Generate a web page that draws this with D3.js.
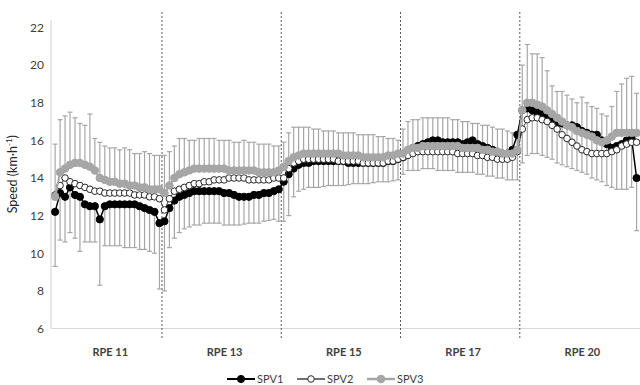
<!DOCTYPE html>
<html>
<head>
<meta charset="utf-8">
<script src="https://cdn.jsdelivr.net/npm/d3@7"></script>
<style>
  body { margin: 0; background: #fff; }
  svg { font-family: Lato, "Open Sans", sans-serif; }
</style>
</head>
<body>
<div id="chart"></div>
<script>
// segments (RPE stages) and how many samples each holds
const stages = ["RPE 11", "RPE 13", "RPE 15", "RPE 17", "RPE 20"];
const stageCounts = [22, 24, 24, 24, 24];
const yTicks = [6, 8, 10, 12, 14, 16, 18, 20, 22];

const spv1 = [
  12.2, 13.2, 13.0, 13.5, 13.1, 13.0, 12.6, 12.5, 12.5, 11.8, 12.5, 12.6, 12.6, 12.6, 12.6, 12.6, 12.6, 12.5, 12.4, 12.3, 12.2, 11.6,
  11.7, 12.4, 12.8, 13.0, 13.1, 13.2, 13.3, 13.3, 13.3, 13.3, 13.3, 13.3, 13.2, 13.2, 13.1, 13.0, 13.0, 13.0, 13.1, 13.1, 13.2, 13.2, 13.3, 13.4,
  13.8, 14.2, 14.5, 14.7, 14.8, 14.8, 14.9, 14.9, 14.9, 14.9, 14.9, 14.9, 14.9, 14.8, 14.8, 14.8, 14.8, 14.8, 14.8, 14.8, 14.8, 14.9, 14.9, 15.0,
  15.1, 15.4, 15.6, 15.7, 15.8, 15.9, 16.0, 16.0, 15.9, 15.9, 15.9, 15.9, 15.8, 15.9, 16.0, 15.8, 15.7, 15.6, 15.5, 15.4, 15.3, 15.3, 15.5, 16.3,
  17.6, 17.7, 17.6, 17.5, 17.4, 17.2, 17.1, 16.9, 16.9, 16.8, 16.8, 16.7, 16.5, 16.4, 16.3, 16.3, 16.0, 15.8, 15.6, 15.7, 15.8, 16.0, 16.1, 14.0
];
const spv2 = [
  13.1, 13.6, 14.0, 13.8, 13.7, 13.6, 13.5, 13.4, 13.3, 13.3, 13.2, 13.2, 13.2, 13.2, 13.2, 13.2, 13.1, 13.1, 13.1, 13.0, 13.0, 12.9,
  12.3, 12.9, 13.3, 13.4, 13.5, 13.6, 13.7, 13.7, 13.8, 13.8, 13.9, 13.9, 13.9, 14.0, 14.0, 14.0, 14.0, 13.9, 13.9, 13.9, 13.9, 13.9, 14.0, 14.0,
  14.0, 14.5, 14.8, 14.9, 15.0, 15.0, 15.0, 15.0, 15.0, 15.0, 15.0, 14.9, 14.9, 14.9, 14.9, 14.9, 14.8, 14.8, 14.8, 14.8, 14.8, 14.9, 14.9, 15.0,
  15.1, 15.2, 15.3, 15.4, 15.4, 15.4, 15.4, 15.4, 15.4, 15.4, 15.4, 15.3, 15.3, 15.3, 15.3, 15.2, 15.2, 15.1, 15.1, 15.0, 15.0, 15.0, 15.1, 15.4,
  16.6, 17.1, 17.2, 17.2, 17.1, 17.0, 16.8, 16.6, 16.3, 16.1, 15.9, 15.7, 15.5, 15.4, 15.3, 15.3, 15.3, 15.3, 15.4, 15.5, 15.7, 15.8, 15.9, 15.9
];
const spv3 = [
  13.0, 14.3, 14.5, 14.7, 14.8, 14.8, 14.7, 14.6, 14.4, 14.0, 13.9, 13.8, 13.8, 13.7, 13.7, 13.6, 13.6, 13.5, 13.5, 13.4, 13.4, 13.4,
  13.2, 13.6, 14.0, 14.2, 14.3, 14.4, 14.5, 14.5, 14.5, 14.5, 14.5, 14.5, 14.5, 14.4, 14.4, 14.4, 14.4, 14.4, 14.4, 14.3, 14.3, 14.3, 14.3, 14.4,
  14.6, 14.9, 15.1, 15.2, 15.3, 15.3, 15.3, 15.3, 15.3, 15.3, 15.3, 15.3, 15.2, 15.2, 15.2, 15.2, 15.1, 15.1, 15.1, 15.1, 15.1, 15.2, 15.2, 15.3,
  15.3, 15.5, 15.6, 15.6, 15.7, 15.7, 15.7, 15.7, 15.7, 15.7, 15.7, 15.7, 15.6, 15.6, 15.6, 15.6, 15.5, 15.5, 15.4, 15.4, 15.3, 15.3, 15.3, 15.5,
  17.6, 18.0, 18.0, 17.9, 17.8, 17.6, 17.4, 17.2, 17.0, 16.8, 16.7, 16.5, 16.4, 16.3, 16.2, 16.0, 15.9, 16.0, 16.2, 16.4, 16.4, 16.4, 16.4, 16.4
];
// error bar ends: SPV3 + SD (upper), SPV1 - SD (lower)
const spv3Upper = [
  15.8, 17.1, 17.3, 17.5, 17.2, 16.9, 16.8, 17.4, 16.1, 15.9, 15.7, 15.6, 15.6, 15.5, 15.6, 15.5, 15.3, 15.3, 15.4, 15.3, 15.2, 15.2,
  15.2, 15.4, 15.7, 16.1, 16.1, 16.0, 16.0, 16.1, 16.1, 16.1, 16.1, 16.0, 16.0, 16.0, 15.9, 15.9, 16.0, 15.9, 15.9, 15.8, 15.8, 15.8, 15.7, 15.7,
  15.9, 16.4, 16.7, 16.7, 16.7, 16.7, 16.6, 16.6, 16.5, 16.5, 16.5, 16.4, 16.4, 16.4, 16.4, 16.3, 16.3, 16.3, 16.3, 16.2, 16.2, 16.1, 16.1, 16.0,
  16.6, 17.0, 17.1, 17.1, 17.2, 17.2, 17.2, 17.2, 17.2, 17.2, 17.1, 17.1, 17.0, 17.0, 16.9, 16.9, 16.8, 16.8, 16.7, 16.6, 16.6, 16.5, 16.4, 16.4,
  20.0, 21.1, 20.6, 20.6, 20.4, 19.7, 18.9, 18.6, 18.6, 18.4, 18.2, 18.0, 18.3, 18.0, 17.8, 17.7, 17.4, 17.3, 17.8, 18.6, 19.0, 19.3, 19.4, 18.5
];
const spv1Lower = [
  9.3, 10.7, 10.6, 11.1, 10.8, 10.1, 10.6, 10.6, 10.6, 8.3, 10.4, 10.4, 10.4, 10.4, 10.3, 10.3, 10.3, 10.2, 10.2, 10.1, 10.0, 8.1,
  8.0, 10.3, 10.8, 11.1, 11.3, 11.4, 11.5, 11.5, 11.6, 11.6, 11.6, 11.6, 11.5, 11.5, 11.5, 11.5, 11.55, 11.6, 11.6, 11.6, 11.7, 11.75, 11.8, 11.7,
  11.7, 12.0, 13.0, 13.3, 13.4, 13.5, 13.5, 13.5, 13.55, 13.6, 13.6, 13.6, 13.6, 13.65, 13.7, 13.7, 13.7, 13.7, 13.75, 13.8, 13.8, 13.8, 13.85, 13.9,
  14.2, 14.4, 14.4, 14.4, 14.5, 14.5, 14.5, 14.4, 14.4, 14.4, 14.4, 14.3, 14.3, 14.3, 14.3, 14.2, 14.2, 14.1, 14.1, 14.0, 14.0, 13.9, 13.9, 13.9,
  14.8, 15.2, 15.3, 15.3, 15.2, 15.1, 15.0, 14.8, 14.7, 14.6, 14.5, 14.4, 14.3, 14.2, 14.0, 13.9, 13.8, 13.6, 13.5, 13.4, 13.4, 13.4, 13.5, 11.2
];

const W = 640, H = 385;
const n = spv1.length;
const axisLeft = 51, axisBottom = 328.5;

const svg = d3.select("#chart").append("svg")
    .attr("width", W)
    .attr("height", H);

const x = d3.scaleLinear().domain([0, n - 1]).range([55.1, 636.6]);
const y = d3.scaleLinear().domain([6, 22]).range([axisBottom, 27.5]);

// axis lines
svg.append("line")
    .attr("x1", axisLeft).attr("x2", axisLeft)
    .attr("y1", 20).attr("y2", axisBottom)
    .attr("stroke", "#d9d9d9").attr("stroke-width", 1.2);
svg.append("line")
    .attr("x1", axisLeft).attr("x2", W)
    .attr("y1", axisBottom).attr("y2", axisBottom)
    .attr("stroke", "#d9d9d9").attr("stroke-width", 1.2);

const yAxis = svg.append("g")
    .attr("transform", "translate(" + axisLeft + ",0)")
    .call(d3.axisLeft(y).tickValues(yTicks).tickSize(0).tickPadding(7));
yAxis.select(".domain").remove();
yAxis.selectAll("text")
    .attr("font-size", 12)
    .attr("font-family", "Lato, sans-serif")
    .attr("fill", "#404040");

svg.append("text")
    .attr("transform", "translate(17," + y(14.2) + ") rotate(-90)")
    .attr("text-anchor", "middle")
    .attr("font-size", 12.5)
    .attr("fill", "#262626")
    .html("Speed (km·h<tspan dy='-5' font-size='8'>-1</tspan><tspan dy='5'>)</tspan>");

// stage boundaries and labels
let starts = [], acc = 0;
stageCounts.forEach(function(c) { starts.push(acc); acc += c; });

svg.selectAll(".divider")
    .data(starts.slice(1))
  .enter().append("line")
    .attr("class", "divider")
    .attr("x1", function(s) { return x(s - 0.5); })
    .attr("x2", function(s) { return x(s - 0.5); })
    .attr("y1", 12).attr("y2", 338)
    .attr("stroke", "#595959")
    .attr("stroke-width", 1)
    .attr("stroke-dasharray", "2,2");

svg.selectAll(".stage")
    .data(stages)
  .enter().append("text")
    .attr("class", "stage")
    .attr("x", function(d, i) { return x(starts[i] + (stageCounts[i] - 1) / 2) + 3; })
    .attr("y", 356)
    .attr("text-anchor", "middle")
    .attr("font-size", 11)
    .attr("font-weight", "bold")
    .attr("fill", "#404040")
    .text(function(d) { return d; });

// error bars
const errColor = "#a6a6a6", cap = 2.5;
function errorBars(ends, base) {
  const g = svg.append("g").attr("stroke", errColor).attr("stroke-width", 1.2);
  ends.forEach(function(v, i) {
    g.append("line")
        .attr("x1", x(i)).attr("x2", x(i))
        .attr("y1", y(base[i])).attr("y2", y(v));
    g.append("line")
        .attr("x1", x(i) - cap).attr("x2", x(i) + cap)
        .attr("y1", y(v)).attr("y2", y(v));
  });
}
errorBars(spv3Upper, spv3);
errorBars(spv1Lower, spv1);

const line = d3.line()
    .x(function(d, i) { return x(i); })
    .y(function(d) { return y(d); });

const series = [
  { name: "SPV1", values: spv1, stroke: "#000", width: 1.5, fill: "#000", mstroke: "#000", r: 3.6 },
  { name: "SPV2", values: spv2, stroke: "#404040", width: 1, fill: "#fff", mstroke: "#262626", r: 3.3 },
  { name: "SPV3", values: spv3, stroke: "#a6a6a6", width: 2, fill: "#a6a6a6", mstroke: "#a6a6a6", r: 3.8 }
];

series.forEach(function(s) {
  svg.append("path")
      .datum(s.values)
      .attr("fill", "none")
      .attr("stroke", s.stroke)
      .attr("stroke-width", s.width)
      .attr("d", line);
  svg.append("g").selectAll("circle")
      .data(s.values)
    .enter().append("circle")
      .attr("cx", function(d, i) { return x(i); })
      .attr("cy", function(d) { return y(d); })
      .attr("r", s.r)
      .attr("fill", s.fill)
      .attr("stroke", s.mstroke)
      .attr("stroke-width", 1);
});

// legend
const legend = svg.append("g").attr("transform", "translate(227,379)");
series.forEach(function(s, i) {
  const g = legend.append("g").attr("transform", "translate(" + (i * 70) + ",0)");
  g.append("line")
      .attr("x1", 0).attr("x2", 28)
      .attr("stroke", s.stroke).attr("stroke-width", s.width + 0.5);
  g.append("circle")
      .attr("cx", 14).attr("r", s.r)
      .attr("fill", s.fill).attr("stroke", s.mstroke).attr("stroke-width", 1);
  g.append("text")
      .attr("x", 30).attr("y", 4)
      .attr("font-size", 11)
      .attr("fill", "#404040")
      .text(s.name);
});
</script>
</body>
</html>
